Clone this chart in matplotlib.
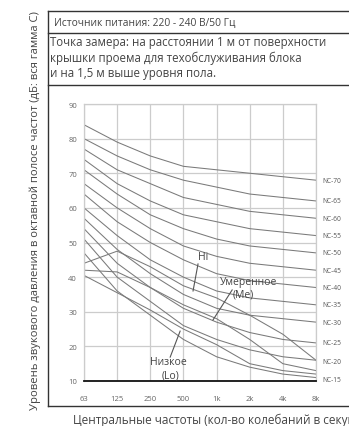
#!/usr/bin/env python3
import matplotlib
matplotlib.use("Agg")
import matplotlib.pyplot as plt  # type: ignore
from matplotlib.lines import Line2D  # type: ignore

plt.rcParams["font.family"] = ["Open Sans", "DejaVu Sans"]

freqs = ["63", "125", "250", "500", "1k", "2k", "4k", "8k"]

# NC reference curves (dB per octave band)
nc_names = ["NC-70", "NC-65", "NC-60", "NC-55", "NC-50", "NC-45",
            "NC-40", "NC-35", "NC-30", "NC-25", "NC-20", "NC-15"]
nc_values = [
    [84, 79, 75, 72, 71, 70, 69, 68],
    [80, 75, 71, 68, 66, 64, 63, 62],
    [77, 71, 67, 63, 61, 59, 58, 57],
    [74, 67, 62, 58, 56, 54, 53, 52],
    [71, 64, 58, 54, 51, 49, 48, 47],
    [67, 60, 54, 49, 46, 44, 43, 42],
    [64, 56, 50, 45, 41, 39, 38, 37],
    [60, 52, 45, 40, 36, 34, 33, 32],
    [57, 48, 41, 35, 31, 29, 28, 27],
    [54, 44, 37, 31, 27, 24, 22, 21],
    [51, 40, 33, 26, 22, 19, 17, 16],
    [47, 36, 29, 22, 17, 14, 12, 11],
]
nc_label_y = [68, 62, 57, 52, 47, 42, 37, 32, 27, 21, 15.5, 10.3]

# unit fan speeds
hi_values = [44, 47.5, 43, 37.5, 34, 29, 23.5, 16]
me_values = [42, 41.5, 37, 32, 28, 22, 15, 13]
lo_values = [40.5, 35.5, 30.5, 25, 20.5, 15, 13, 12]

yticks = [10, 20, 30, 40, 50, 60, 70, 80, 90]

header = "Источник питания: 220 - 240 В/50 Гц"
note = ("Точка замера: на расстоянии 1 м от поверхности\n"
        "крышки проема для техобслуживания блока\n"
        "и на 1,5 м выше уровня пола.")
ylabel = "Уровень звукового давления в октавной полосе частот (дБ: вся гамма С)"
xlabel = "Центральные частоты (кол-во колебаний в секунду)"

W, H = 349, 427
fig = plt.figure(figsize=(W / 100, H / 100), dpi=100)


# pixel coords -> figure coords
def fx(px):
    return px / W


def fy(py):
    return 1 - py / H


frame = dict(color="#333333", lw=1.0, transform=fig.transFigure)
fig.add_artist(Line2D([fx(48), fx(48)], [fy(12), fy(407)], **frame))
for py in (12, 34, 86, 407):
    fig.add_artist(Line2D([fx(48), 1.0], [fy(py), fy(py)], **frame))

txt = "#444444"
fig.text(fx(54), fy(23), header, fontsize=7.4, color=txt, va="center")
fig.text(fx(50), fy(58), note, fontsize=8.3, color=txt, va="center",
         linespacing=1.2)
fig.text(fx(35), fy(211), ylabel, fontsize=8.1, color=txt, rotation=90,
         ha="center", va="center")
# the reference itself is cut at the right edge
fig.text(fx(73), fy(420), xlabel, fontsize=8.5, color=txt, va="center")

ax = fig.add_axes([fx(84), fy(382), fx(316) - fx(84), fy(105) - fy(382)])
x = list(range(len(freqs)))
grid_c = "#cccccc"
line_c = "#7a7a7a"

for vals in nc_values:
    ax.plot(x, vals, color=line_c, lw=0.75)
for vals in (hi_values, me_values, lo_values):
    ax.plot(x, vals, color=line_c, lw=0.75)

for name, yv in zip(nc_names, nc_label_y):
    ax.text(7.2, yv, name, fontsize=4.8, color="#555555", va="center",
            ha="left", clip_on=False)

ax.set_xlim(0, 7)
ax.set_ylim(10, 90)
ax.set_xticks(x)
ax.set_xticklabels(freqs)
ax.set_yticks(yticks)
ax.grid(True, color=grid_c, lw=0.9)
ax.set_axisbelow(True)
ax.tick_params(length=0, labelsize=5.5, labelcolor="#666666")
ax.tick_params(axis="x", pad=10)
ax.tick_params(axis="y", pad=5)
for side in ("left", "right", "top"):
    ax.spines[side].set_color(grid_c)
    ax.spines[side].set_linewidth(0.9)
ax.spines["bottom"].set_color("#111111")
ax.spines["bottom"].set_linewidth(1.3)

# speed labels with leader lines
lab = dict(fontsize=7.5, color="#444444", ha="center", va="center")
lead = dict(color="#555555", lw=0.8)
ax.text(3.59, 46.1, "Hi", **lab)
ax.plot([3.44, 3.29], [43.8, 36.0], **lead)
ax.text(4.98, 38.6, "Умеренное", **lab)
ax.text(4.80, 35.1, "(Me)", **lab)
ax.plot([4.47, 3.89], [36.3, 27.6], **lead)
ax.text(2.56, 15.5, "Низкое", **lab)
ax.text(2.60, 11.7, "(Lo)", **lab)
ax.plot([2.60, 2.90], [16.9, 24.4], **lead)

fig.savefig("out.png", dpi=100)
